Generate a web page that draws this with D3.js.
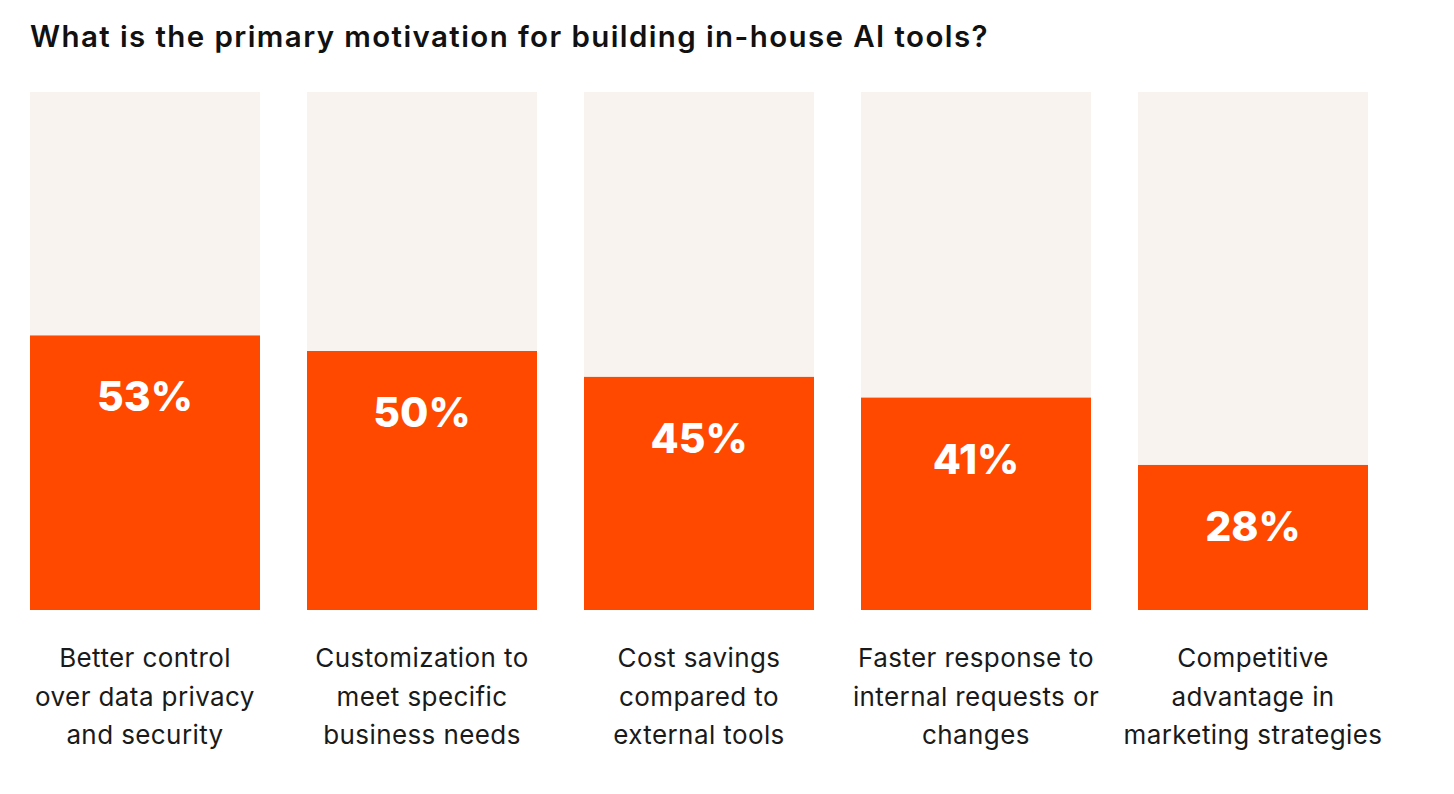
<!DOCTYPE html>
<html><head><meta charset="utf-8">
<script src="https://cdn.jsdelivr.net/npm/d3@7"></script>
<style>html,body{margin:0;padding:0;background:#fff;}svg{display:block;}</style>
</head><body>
<div id="chart"></div>
<script>
const title = "What is the primary motivation for building in-house AI tools?";
const categories = [
  ["Better control", "over data privacy", "and security"],
  ["Customization to", "meet specific", "business needs"],
  ["Cost savings", "compared to", "external tools"],
  ["Faster response to", "internal requests or", "changes"],
  ["Competitive", "advantage in", "marketing strategies"]
];
const values = [53, 50, 45, 41, 28];
const valueLabels = ["53%", "50%", "45%", "41%", "28%"];

const W = 1454, H = 794;
const svg = d3.select("#chart").append("svg").attr("width", W).attr("height", H);
const font = "Inter, 'Noto Sans', sans-serif";

svg.append("text").attr("x", 30).attr("y", 47)
  .attr("font-family", font).attr("font-weight", 600).attr("font-size", 29.5)
  .attr("letter-spacing", 1.4)
  .attr("fill", "#111").text(title);

const x = d3.scaleBand().domain(d3.range(values.length)).range([30, 1368]).paddingInner(47/277).paddingOuter(0).align(0);
const y = d3.scaleLinear().domain([0, 100]).range([610, 92]);

const g = svg.append("g");
const bars = g.selectAll("g.bar").data(values).join("g").attr("class", "bar");
bars.append("rect").attr("x", (d,i) => x(i)).attr("width", x.bandwidth())
  .attr("y", y(100)).attr("height", y(0) - y(100)).attr("fill", "#F8F3EE");
bars.append("rect").attr("x", (d,i) => x(i)).attr("width", x.bandwidth())
  .attr("y", d => y(d)).attr("height", d => y(0) - y(d)).attr("fill", "#FF4800");
bars.append("text").attr("x", (d,i) => x(i) + x.bandwidth()/2).attr("y", d => y(d) + 76)
  .attr("text-anchor", "middle").attr("font-family", font).attr("font-weight", 800)
  .attr("font-size", 41).attr("fill", "#fff").text((d,i) => valueLabels[i]);

const labels = g.selectAll("text.cat").data(categories).join("text").attr("class", "cat")
  .attr("text-anchor", "middle").attr("font-family", font).attr("font-size", 26)
  .attr("letter-spacing", 0.4).attr("fill", "#1a1a1a");
labels.selectAll("tspan").data((d,i) => d.map(t => ({t, i}))).join("tspan")
  .attr("x", d => x(d.i) + x.bandwidth()/2)
  .attr("y", (d,j) => 667 + j*38.5).text(d => d.t);
</script>
</body></html>
